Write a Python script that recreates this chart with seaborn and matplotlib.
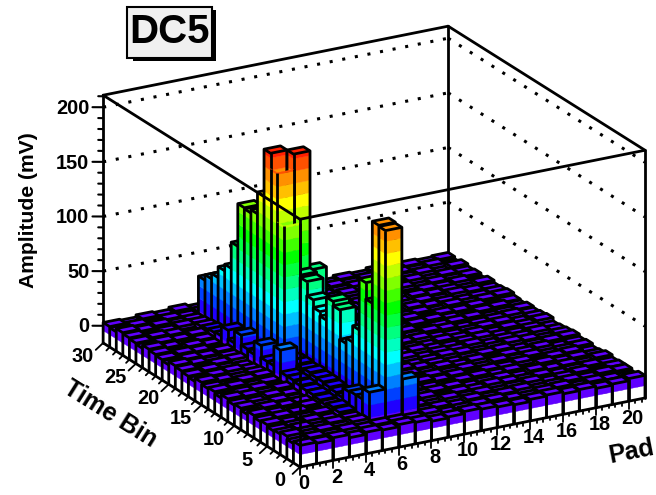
import numpy as np
import matplotlib
matplotlib.use("Agg")
import matplotlib.pyplot as plt
from matplotlib.patches import Rectangle
from mpl_toolkits.mplot3d import proj3d
from mpl_toolkits.mplot3d.art3d import Poly3DCollection, Line3DCollection
import seaborn as sns

sns.set_theme(style="white")
plt.rcParams['font.family'] = ['Liberation Sans', 'DejaVu Sans']
plt.rcParams['font.weight'] = 'bold'
plt.rcParams['text.color'] = 'black'

TITLE = "DC5"
Z_LABEL = "Amplitude (mV)"
X_LABEL = "Pad"
Y_LABEL = "Time Bin"
PAD_TICKS = [0, 2, 4, 6, 8, 10, 12, 14, 16, 18, 20]
TIME_TICKS = [0, 5, 10, 15, 20, 25, 30]
AMP_TICKS = [0, 50, 100, 150, 200]
BAND_COLORS = ["#FFFFFF", "#6000FF", "#2000FF", "#0040FF", "#0080FF", "#00C0FF", "#00FFFF",
               "#00FFC0", "#00FF80", "#00FF40", "#00FF00", "#40FF00", "#80FF00", "#C0FF00",
               "#FFFF00", "#FFC000", "#FF9000", "#FF5000", "#FF2000", "#FF0000"]
Z_FLOOR, Z_CEIL, BAND_STEP = -15.7, 211.0, 11.3

# rows: time bin 0..29, columns: pad 0..20 (mV)
AMPLITUDE = [
 [4,3,5,2,4,3,5,4,2,3,5,4,3,2,4,5,3,4,2,3,5],
 [2,4,3,5,3,4,4,3,5,2,3,4,5,3,2,4,5,2,4,3,2],
 [5,2,4,3,6,30,175,36,3,4,2,5,3,4,5,2,3,4,3,5,4],
 [3,5,2,4,5,20,176,8,4,2,5,3,4,2,3,5,2,3,5,2,4],
 [2,3,5,3,7,20,101,4,3,5,2,4,3,5,4,3,4,2,3,4,3],
 [4,2,3,5,8,19,116,5,2,3,4,5,2,3,4,2,5,3,4,2,5],
 [3,4,5,2,6,10,69,4,5,4,3,2,4,5,3,4,2,5,3,4,3],
 [5,3,2,4,7,11,54,3,4,2,5,3,5,2,4,3,5,2,4,5,2],
 [2,5,3,4,8,12,49,5,3,5,2,4,3,4,2,5,3,4,2,3,4],
 [4,3,4,2,8,13,76,4,2,3,4,2,5,3,5,2,4,3,5,2,3],
 [3,2,5,3,9,13,80,5,4,2,5,3,4,2,3,4,5,2,3,4,5],
 [5,4,3,5,10,14,59,3,5,4,3,2,3,5,4,2,3,5,4,2,4],
 [2,3,4,2,10,13,63,4,2,3,4,5,2,4,3,5,2,4,3,5,3],
 [4,5,2,3,30,14,70,5,3,5,2,4,5,3,2,4,5,3,2,4,2],
 [3,2,4,5,12,14,83,4,4,2,3,5,3,2,4,3,5,2,4,3,5],
 [5,3,2,4,12,133,85,3,5,3,5,2,4,5,3,2,3,4,5,2,4],
 [2,4,5,3,23,178,192,83,2,4,3,4,2,3,5,4,2,3,4,5,3],
 [3,5,3,2,11,192,150,4,3,5,2,3,5,4,2,3,4,5,2,3,4],
 [4,2,4,5,12,149,40,3,4,2,4,5,3,2,4,5,3,2,4,5,2],
 [5,3,2,4,21,129,10,5,2,3,5,2,4,3,5,2,4,3,5,2,3],
 [2,4,3,5,10,126,8,4,5,4,3,4,2,5,3,4,2,5,3,4,5],
 [3,5,4,2,18,127,5,3,3,2,4,5,3,4,2,5,3,4,2,3,4],
 [4,2,5,3,9,88,4,5,4,5,2,3,4,2,5,3,4,2,5,4,3],
 [5,3,2,4,8,64,3,2,5,3,4,2,5,3,4,2,5,3,4,2,5],
 [2,4,3,5,7,58,5,4,2,4,5,3,2,4,3,5,2,4,3,5,2],
 [3,5,4,2,6,48,4,3,5,2,3,4,5,2,4,3,5,2,4,3,4],
 [4,2,3,5,5,43,3,5,3,4,5,2,3,5,2,4,3,5,2,4,3],
 [5,3,5,3,4,38,5,2,4,5,3,4,2,3,5,2,4,3,5,2,5],
 [2,4,2,4,3,5,4,3,5,2,4,3,5,4,3,5,2,4,3,5,2],
 [3,2,4,3,5,3,2,5,3,4,2,5,3,2,4,3,5,2,4,3,4],
]
# (time bin, pad) cells whose top is hidden in the reference's hidden-line drawing
OPEN_TOP_CELLS = [(15, 5), (16, 5)]

FIG_W, FIG_H = 656, 495
amps = np.array(AMPLITUDE, dtype=float)
n_time, n_pad = amps.shape
palette = sns.color_palette(BAND_COLORS)

fig = plt.figure(figsize=(FIG_W / 100, FIG_H / 100), dpi=100)
ax = fig.add_axes([0, 0, 1, 1], projection="3d", proj_type="ortho", computed_zorder=False)
ax.set_xlim(0, 21); ax.set_ylim(0, 30); ax.set_zlim(Z_FLOOR, Z_CEIL)
ax.set_box_aspect((396, 401, 265))
ax.view_init(elev=20.8, azim=-119.4)
ax.set_axis_off()


def to_px(x, y, z):
    X, Y, _ = proj3d.proj_transform(x, y, z, ax.get_proj())
    return ax.transData.transform((X, Y))


# fit the axes box so that the frame corners land where the reference has them
ax.apply_aspect()
p_front, p_right = to_px(0, 0, Z_FLOOR), to_px(21, 0, Z_FLOOR)
scale = 345.0 / (p_right[0] - p_front[0])
pos = ax.get_position()
ax.set_position([pos.x0, pos.y0, pos.width * scale, pos.height * scale])
ax.apply_aspect()
p_front = to_px(0, 0, Z_FLOOR)
dx, dy = 300 - p_front[0], (FIG_H - 467) - p_front[1]
pos = ax.get_position()
ax.set_position([pos.x0 + dx / FIG_W, pos.y0 + dy / FIG_H, pos.width, pos.height])
ax.apply_aspect()

order = 1
LW = 2.0


def seg(x0, y0, z0, x1, y1, z1, **kw):
    global order
    kw.setdefault("color", "black")
    kw.setdefault("lw", LW)
    ax.plot([x0, x1], [y0, y1], [z0, z1], zorder=order, solid_capstyle="round", **kw)
    order += 1


# back walls: gridlines and outline
for a in AMP_TICKS:
    seg(0, 30, a, 21, 30, a, linestyle=(0, (1, 3.2)), lw=2.2)
    seg(21, 30, a, 21, 0, a, linestyle=(0, (1, 3.2)), lw=2.2)
seg(0, 30, Z_CEIL, 21, 30, Z_CEIL)
seg(21, 30, Z_CEIL, 21, 0, Z_CEIL)
seg(21, 30, Z_FLOOR, 21, 30, Z_CEIL)
seg(0, 30, Z_FLOOR, 0, 30, Z_CEIL)
seg(21, 0, Z_FLOOR, 21, 0, Z_CEIL)


def band_edges(top):
    k = 0
    out = []
    lo = Z_FLOOR
    while lo < top:
        hi = min(Z_FLOOR + (k + 1) * BAND_STEP, top)
        out.append((k, lo, hi))
        lo = hi
        k += 1
    return out


# painter's order: far cells first
for t in range(n_time - 1, -1, -1):
    for p in range(n_pad - 1, -1, -1):
        h = amps[t, p]
        x0, x1, y0, y1 = p, p + 1, t, t + 1
        open_top = (t, p) in OPEN_TOP_CELLS
        polys, cols = [], []
        bands = band_edges(h)
        for k, lo, hi in bands:
            polys.append([(x0, y1, lo), (x0, y0, lo), (x0, y0, hi), (x0, y1, hi)])
            cols.append(palette[k])
            polys.append([(x0, y0, lo), (x1, y0, lo), (x1, y0, hi), (x0, y0, hi)])
            cols.append(palette[k])
        if not open_top:
            polys.append([(x0, y0, h), (x1, y0, h), (x1, y1, h), (x0, y1, h)])
            cols.append(palette[bands[-1][0]])
        pc = Poly3DCollection(polys, facecolors=cols, edgecolors=cols, linewidths=0.3)
        ax.add_collection3d(pc, autolim=False)
        pc.set_zorder(order); order += 1
        if open_top:
            outline = [
                [(x0, y1, Z_FLOOR), (x0, y1, h)],
                [(x1, y0, Z_FLOOR), (x1, y0, h)],
                [(x0, y0, Z_FLOOR), (x0, y0, h)],
            ]
        else:
            outline = [
                [(x0, y1, Z_FLOOR), (x0, y1, h), (x1, y1, h), (x1, y0, h), (x1, y0, Z_FLOOR)],
                [(x0, y0, Z_FLOOR), (x0, y0, h)],
                [(x0, y1, h), (x0, y0, h), (x1, y0, h)],
            ]
        lc = Line3DCollection(outline, colors="black", linewidths=LW)
        ax.add_collection3d(lc, autolim=False)
        lc.set_zorder(order); order += 1

# front of the frame
seg(0, 0, Z_FLOOR, 21, 0, Z_FLOOR)
seg(0, 0, Z_FLOOR, 0, 30, Z_FLOOR)
seg(0, 0, Z_FLOOR, 0, 0, Z_CEIL)
seg(0, 30, Z_CEIL, 0, 0, Z_CEIL)
seg(0, 0, Z_CEIL, 21, 0, Z_CEIL)

# axis ticks
for v in np.arange(0, 21.01, 0.4):
    seg(v, 0, Z_FLOOR, v, 0, Z_FLOOR - (7 if abs(v / 2 - round(v / 2)) < 1e-6 else 3), lw=1.3)
for v in np.arange(0, 30.01, 1):
    m = v % 5 == 0
    seg(0, v, Z_FLOOR, -0.45 if m else -0.2, v, Z_FLOOR - (5 if m else 2.5), lw=1.3)
for v in np.arange(0, 210.01, 10):
    m = v % 50 == 0
    seg(0, 30, v, -0.65 if m else -0.3, 30, v + (2 if m else 1), lw=1.5)


# tick labels: anchored to the projected axis positions, drawn as figure text
def label_at(x, y, z, s, ha="center"):
    px, py = to_px(x, y, z)
    fig.text(px / FIG_W, py / FIG_H, s, fontsize=14.4, fontweight="bold", color="black",
             ha=ha, va="center")


for v in PAD_TICKS:
    label_at(v + 0.22, 0, Z_FLOOR - 16, str(v))
for v in TIME_TICKS:
    label_at(-1.25, v, Z_FLOOR - 9, str(v))
for v in AMP_TICKS:
    label_at(-0.85, 30, v + 1.5, str(v), ha="right")


# axis titles and boxed title are placed on the figure
def fx(x): return x / FIG_W
def fy(y): return 1 - y / FIG_H


fig.text(fx(28), fy(210), Z_LABEL, rotation=90, fontsize=15.2, fontweight="bold", color="black",
         ha="center", va="center")
fig.text(fx(110), fy(414), Y_LABEL, rotation=-32, fontsize=18, fontweight="bold", color="black",
         ha="center", va="center")
fig.text(fx(632), fy(452), X_LABEL, rotation=11, fontsize=18, fontweight="bold", color="black",
         ha="center", va="center")
fig.add_artist(Rectangle((fx(133), fy(61)), 83 / FIG_W, 51 / FIG_H, transform=fig.transFigure,
                         facecolor="black", edgecolor="black", lw=0))
fig.add_artist(Rectangle((fx(127), fy(58)), 85 / FIG_W, 51 / FIG_H, transform=fig.transFigure,
                         facecolor="#F0F0F0", edgecolor="black", lw=1.5))
fig.text(fx(170), fy(32), TITLE, fontsize=29, fontweight="bold", color="black", ha="center", va="center")

fig.savefig("out.png", dpi=100)
